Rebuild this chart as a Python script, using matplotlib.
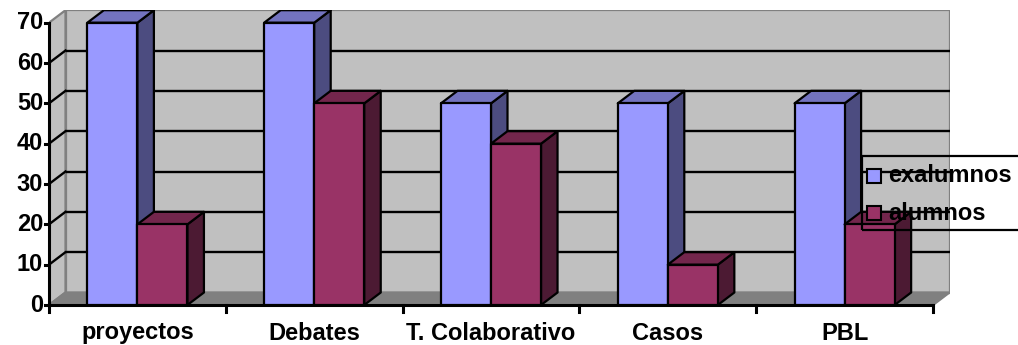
import matplotlib
matplotlib.use("Agg")
import matplotlib.pyplot as plt
from matplotlib.patches import Polygon, Rectangle

plt.rcParams['font.family'] = ['Liberation Sans', 'DejaVu Sans']

categories = ["proyectos", "Debates", "T. Colaborativo", "Casos", "PBL"]
exalumnos = [70, 70, 50, 50, 50]
alumnos = [20, 50, 40, 10, 20]
series_names = ["exalumnos", "alumnos"]
y_ticks = [0, 10, 20, 30, 40, 50, 60, 70]

W, H = 1018, 345
fig = plt.figure(figsize=(W / 100, H / 100), dpi=100)

# plot area (front plane) in pixels
x0_px, x1_px = 49, 933
y0_px, y70_px = 305, 22.7
depth_px = (16.5, 12.5)

ncat = len(categories)
ymax = 70
px_per_x = (x1_px - x0_px) / ncat
px_per_y = (y0_px - y70_px) / ymax
dx = depth_px[0] / px_per_x
dy = depth_px[1] / px_per_y

xl, xr = 0, ncat + dx
yb, yt = 0, ymax + dy
left = x0_px / W
right = (x0_px + xr * px_per_x) / W
bottom = (H - y0_px) / H
top = (H - (y0_px - yt * px_per_y)) / H
ax = fig.add_axes([left, bottom, right - left, top - bottom])
ax.set_xlim(xl, xr)
ax.set_ylim(yb, yt)
ax.axis("off")

wall = "#C0C0C0"
floor = "#808080"
edge_gray = "#808080"
FS = 17

# back wall
ax.add_patch(Polygon([(dx, dy), (ncat + dx, dy), (ncat + dx, ymax + dy), (dx, ymax + dy)],
                     closed=True, facecolor=wall, edgecolor=edge_gray, lw=1.6, zorder=1))
# side wall
ax.add_patch(Polygon([(0, 0), (dx, dy), (dx, ymax + dy), (0, ymax)],
                     closed=True, facecolor=wall, edgecolor=edge_gray, lw=1.6, zorder=1))
# floor
ax.add_patch(Polygon([(0, 0), (ncat, 0), (ncat + dx, dy), (dx, dy)],
                     closed=True, facecolor=floor, edgecolor=edge_gray, lw=1.6, zorder=1))

# gridlines on walls
for v in y_ticks[1:-1]:
    ax.plot([dx, ncat + dx], [v + dy, v + dy], color="black", lw=1.7, zorder=2,
            solid_capstyle="butt")
    ax.plot([0, dx], [v, v + dy], color="black", lw=1.7, zorder=2)

# front axes
ax.plot([0, 0], [0, ymax], color="black", lw=2.2, zorder=3, clip_on=False)
ax.plot([0, ncat], [0, 0], color="black", lw=2.2, zorder=3, clip_on=False)
tick_len_x = 4 / px_per_x
tick_len_y = 7 / px_per_y
for v in y_ticks:
    ax.plot([-tick_len_x, 0], [v, v], color="black", lw=2.2, zorder=3, clip_on=False)
    ax.text(-6 / px_per_x, v, str(v), ha="right", va="center", fontsize=FS,
            fontweight="bold", clip_on=False)
for i in range(ncat + 1):
    ax.plot([i, i], [0, -tick_len_y], color="black", lw=2.2, zorder=3, clip_on=False)
for i, c in enumerate(categories):
    ax.text(i + 0.5, -28 / px_per_y, c, ha="center", va="center", fontsize=FS,
            fontweight="bold", clip_on=False)


def shade(hexcol, f):
    r, g, b = (int(hexcol[k:k + 2], 16) for k in (1, 3, 5))
    return "#%02X%02X%02X" % (round(r * f), round(g * f), round(b * f))


def bar3d(x, w, h, color, z):
    kw = dict(closed=True, edgecolor="black", lw=1.6, joinstyle="round", zorder=z)
    # side face
    ax.add_patch(Polygon([(x + w, 0), (x + w + dx, dy), (x + w + dx, h + dy), (x + w, h)],
                         facecolor=shade(color, 0.5), **kw))
    # top face
    ax.add_patch(Polygon([(x, h), (x + w, h), (x + w + dx, h + dy), (x + dx, h + dy)],
                         facecolor=shade(color, 0.75), **kw))
    # front face
    ax.add_patch(Polygon([(x, 0), (x + w, 0), (x + w, h), (x, h)],
                         facecolor=color, **kw))


colors = ["#9999FF", "#993366"]
bw = 0.283
off = 0.5 - bw
z = 4
for i in range(ncat):
    bar3d(i + off, bw, exalumnos[i], colors[0], z)
    z += 1
    bar3d(i + off + bw, bw, alumnos[i], colors[1], z)
    z += 1

# legend (transparent box, partially outside the figure)
def fpx(x, y):
    return x / W, (H - y) / H

lx0, ly0, lx1, ly1 = 862, 156, 1040, 230
fig.patches.append(Rectangle(fpx(lx0, ly1), (lx1 - lx0) / W, (ly1 - ly0) / H,
                             transform=fig.transFigure, facecolor="none",
                             edgecolor="black", lw=1.6, zorder=50))
for k, (name, col) in enumerate(zip(series_names, colors)):
    yc = 176 + k * 37
    fig.patches.append(Rectangle(fpx(867, yc + 7), 14 / W, 14 / H,
                                 transform=fig.transFigure, facecolor=col,
                                 edgecolor="black", lw=1.5, zorder=51))
    fig.text(*fpx(888, yc), name, ha="left", va="center", fontsize=FS,
             fontweight="bold", zorder=52)

fig.savefig("out.png", dpi=100, facecolor="white")
